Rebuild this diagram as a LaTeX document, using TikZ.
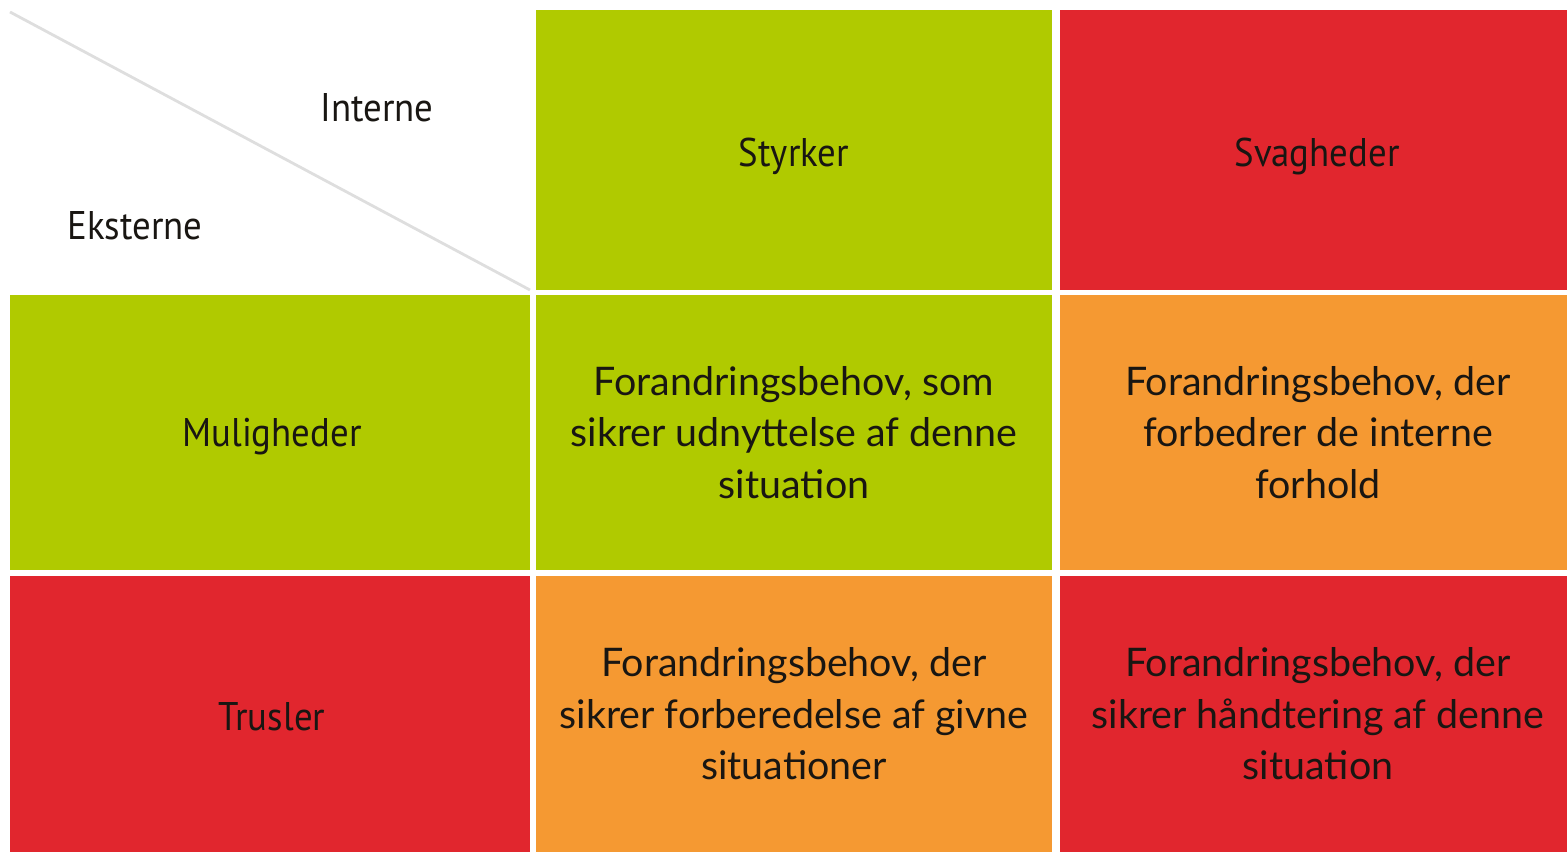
\documentclass[tikz,border=0pt]{standalone}
\usepackage{fontspec}
\setmainfont{Lato}
\newfontfamily\headfont[FakeStretch=0.92]{PT Sans}
\definecolor{swotgreen}{RGB}{176,202,0}
\definecolor{swotred}{RGB}{225,38,46}
\definecolor{swotorange}{RGB}{245,153,50}
\definecolor{textdark}{RGB}{25,22,18}
\definecolor{diagline}{RGB}{222,222,222}
\begin{document}
\begin{tikzpicture}[x=0.5pt,y=-0.5pt,
  cell/.style={anchor=north west, inner sep=0pt, outer sep=0pt, align=center,
    minimum width=258pt, text=textdark, font=\fontsize{19.7}{25.75}\selectfont},
  head/.style={anchor=base, inner sep=0pt, font=\headfont\fontsize{20}{24}\selectfont, text=textdark},
  firstC/.style={minimum width=260pt}]
\useasboundingbox (0,0) rectangle (1567,854);

% coloured cells of the matrix
\node[cell, fill=swotgreen, minimum height=140pt] (s) at (536,10) {};
\node[cell, fill=swotred, minimum height=140pt] (w) at (1060,10) {};
\node[cell, firstC, fill=swotgreen, minimum height=137.5pt] (o) at (10,295) {};
\node[cell, firstC, fill=swotred, minimum height=138pt] (t) at (10,576) {};

% combined strategies
\node[cell, fill=swotgreen, minimum height=137.5pt] (so) at (536,295)
  {Forandringsbehov, som\\sikrer udnyttelse af denne\\situation};
\node[cell, fill=swotorange, minimum height=137.5pt] (wo) at (1060,295)
  {Forandringsbehov, der\\forbedrer de interne\\forhold};
\node[cell, fill=swotorange, minimum height=138pt] (st) at (536,576)
  {Forandringsbehov, der\\sikrer forberedelse af givne\\situationer};
\node[cell, fill=swotred, minimum height=138pt] (wt) at (1060,576)
  {Forandringsbehov, der\\sikrer håndtering af denne\\situation};

% headings of rows and columns
\node[head] (sh) at (794,167) {Styrker};
\node[head] (wh) at (1317,167) {Svagheder};
\node[head] (oh) at (272,447) {Muligheder};
\node[head] (th) at (272,730) {Trusler};

% corner: diagonal split with axis labels
\coordinate (dA) at (10,12);
\coordinate (dB) at (530,290);
\draw[diagline, line width=1.4pt] (dA) -- (dB);
\node[head] (int) at (377,122) {Interne};
\node[head] (ext) at (135,240) {Eksterne};
\end{tikzpicture}
\end{document}
